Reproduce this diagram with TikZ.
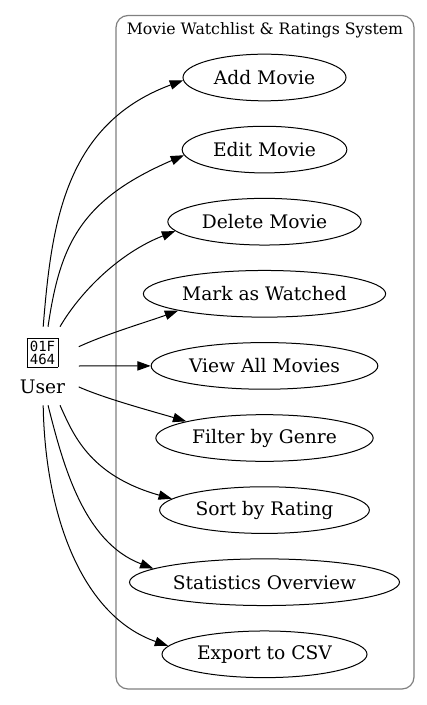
\documentclass[tikz,border=0pt]{standalone}
\usepackage{fontspec}
\setmainfont{DejaVu Serif}
\newfontfamily\hexfont{DejaVu Sans Mono}
\usetikzlibrary{shapes.geometric,arrows.meta}
\newcommand\hexglyph{{\setlength\fboxsep{1.8pt}\setlength\fboxrule{0.6pt}\fbox{\hexfont\fontsize{10.5}{9.6}\selectfont\vbox{\hbox{01F}\hbox{464}}}}}
\begin{document}
\begin{tikzpicture}[x=0.75pt,y=-0.75pt,
  uc/.style={ellipse, draw, line width=0.75pt, minimum height=35pt, inner sep=0pt, font=\fontsize{14}{16.8}\selectfont},
  edge/.style={draw, line width=0.75pt, -{Triangle[length=10pt,width=7pt]}},
  sysbox/.style={draw=gray, line width=0.9pt, rounded corners=9pt}
]
\useasboundingbox (0,0) rectangle (426,705);
\draw[sysbox] (116,15.5) rectangle (414,689);
\node[font=\fontsize{11.8}{14}\selectfont, anchor=base, inner sep=0pt] (title) at (265,34.3) {Movie Watchlist \& Ratings System};

\node[uc, minimum width=122.25pt] (add) at (264.5,77.5) {Add Movie};
\node[uc, minimum width=123.5pt] (edit) at (264.5,149.6) {Edit Movie};
\node[uc, minimum width=145pt] (del) at (264.5,221.7) {Delete Movie};
\node[uc, minimum width=181.7pt] (mark) at (264.5,293.8) {Mark as Watched};
\node[uc, minimum width=170pt] (view) at (264.5,365.9) {View All Movies};
\node[uc, minimum width=163pt] (filter) at (264.5,438) {Filter by Genre};
\node[uc, minimum width=157.3pt] (sort) at (264.5,510.1) {Sort by Rating};
\node[uc, minimum width=202.5pt] (stats) at (264.5,582.2) {Statistics Overview};
\node[uc, minimum width=153.75pt] (export) at (264.5,654.3) {Export to CSV};

\node[inner sep=0pt, minimum width=54pt, minimum height=58.5pt, align=center, font=\fontsize{14}{16.8}\selectfont] (u) at (42.5,366) {\hexglyph\\[5.5pt]User};

\draw[edge] (u.89) .. controls (51.3,226.7) and (63.5,124.5) .. (add.182);
\draw[edge] (u.82) .. controls (60,245) and (80,200) .. (edit.184);
\draw[edge] (u.66) .. controls (80,292.4) and (118.8,253.1) .. (del.186);
\draw[edge] (u.28) .. controls (106,334) and (150,321) .. (mark.191);
\draw[edge] (u.0) -- (view.180);
\draw[edge] (u.-30) .. controls (106,399) and (155,412) .. (filter.168);
\draw[edge] (u.-66) .. controls (72.6,432.7) and (88.2,475.2) .. (sort.173);
\draw[edge] (u.-82) .. controls (62.7,463.2) and (83.1,541.9) .. (stats.173);
\draw[edge] (u.-89) .. controls (45,515.5) and (82.1,615.9) .. (export.175);
\end{tikzpicture}
\end{document}
